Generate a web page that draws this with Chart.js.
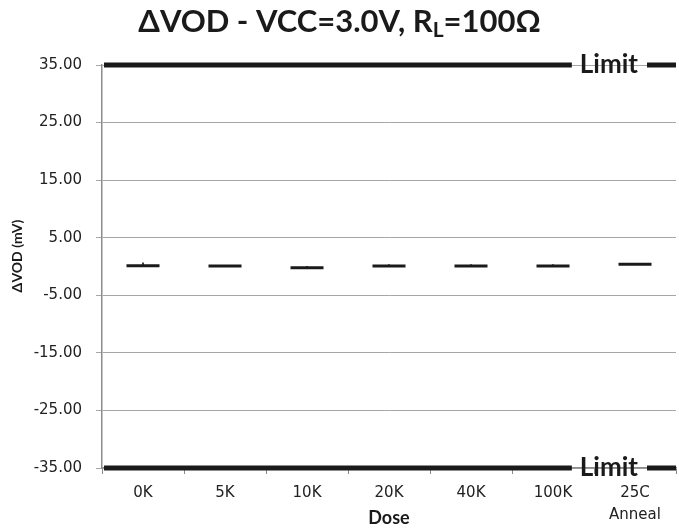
<!DOCTYPE html>
<html>
<head>
<meta charset="utf-8">
<script src="https://cdn.jsdelivr.net/npm/chart.js@4.4.1/dist/chart.umd.min.js"></script>
<style>
  html, body { margin: 0; padding: 0; background: #ffffff; }
  #wrap { width: 679px; height: 532px; }
</style>
</head>
<body>
<div id="wrap"><canvas id="vodChart" width="679" height="532"></canvas></div>
<script>
// Dose steps (second line under 25C names the anneal step)
const doseLabels = [['0K'], ['5K'], ['10K'], ['20K'], ['40K'], ['100K'], ['25C', 'Anneal']];
// Average delta VOD per dose step, mV
const deltaVodAvg = [0.15, 0.10, -0.20, 0.10, 0.10, 0.10, 0.40];
// Upper end of the spread at each dose step, mV
const deltaVodMax = [0.65, 0.10, 0.05, 0.35, 0.35, 0.35, 0.40];
// Specification limits, mV
const limitValues = [35, -35];
const limitText = 'Limit';
// Y axis tick values, mV
const yTickValues = [-35, -25, -15, -5, 5, 15, 25, 35];

const titleMain = 'ΔVOD - VCC=3.0V, R';
const titleSub = 'L';
const titleTail = '=100Ω';
const yTitle = 'ΔVOD (mV)';
const xTitle = 'Dose';

const INK = '#1a1a1a';
const AXIS_GREY = '#8c8c8c';
const GRID_GREY = '#a6a6a6';

// Chart heading with a subscripted L, and the rotated y-axis caption
const headingPlugin = {
  id: 'heading',
  afterDraw(chart) {
    const ctx = chart.ctx;
    ctx.save();
    ctx.fillStyle = INK;
    ctx.textBaseline = 'alphabetic';
    ctx.textAlign = 'left';
    const bigFont = 'bold 31px Lato';
    const subFont = 'bold 21px Lato';
    ctx.font = bigFont;
    const w1 = ctx.measureText(titleMain).width;
    const w3 = ctx.measureText(titleTail).width;
    ctx.font = subFont;
    const w2 = ctx.measureText(titleSub).width;
    const total = w1 + w2 + w3;
    let x = chart.width / 2 - total / 2;
    const base = 32;
    ctx.font = bigFont;
    ctx.fillText(titleMain, x, base);
    x += w1;
    ctx.font = subFont;
    ctx.fillText(titleSub, x, base + 5);
    x += w2;
    ctx.font = bigFont;
    ctx.fillText(titleTail, x, base);

    // y-axis caption
    ctx.translate(17, 256);
    ctx.rotate(-Math.PI / 2);
    ctx.textAlign = 'center';
    ctx.textBaseline = 'middle';
    ctx.font = 'bold 14px Lato';
    ctx.fillText(yTitle, 0, 0);
    ctx.restore();
  }
};

// Heavy limit lines with their inline label
const limitPlugin = {
  id: 'limitLines',
  beforeDatasetsDraw(chart) {
    const { ctx, chartArea: a, scales: { y } } = chart;
    ctx.save();
    ctx.font = 'bold 26px Lato';
    const tw = ctx.measureText(limitText).width;
    const textRight = a.right - 38;
    const textLeft = textRight - tw;
    limitValues.forEach(v => {
      const py = y.getPixelForValue(v);
      ctx.strokeStyle = INK;
      ctx.lineWidth = 5;
      ctx.lineCap = 'butt';
      ctx.beginPath();
      ctx.moveTo(a.left + 2, py);
      ctx.lineTo(textLeft - 8, py);
      ctx.moveTo(textRight + 9, py);
      ctx.lineTo(a.right, py);
      ctx.stroke();
      ctx.fillStyle = INK;
      ctx.textAlign = 'left';
      ctx.textBaseline = 'alphabetic';
      ctx.fillText(limitText, textLeft, py + 8);
    });
    ctx.restore();
  }
};

new Chart(document.getElementById('vodChart'), {
  type: 'line',
  data: {
    labels: doseLabels,
    datasets: [
      {
        type: 'bar',
        label: 'spread',
        data: deltaVodAvg.map((v, i) => [v, deltaVodMax[i]]),
        backgroundColor: INK,
        borderWidth: 0,
        barThickness: 1,
        grouped: false,
        order: 2
      },
      {
        type: 'line',
        label: 'ΔVOD',
        data: deltaVodAvg,
        showLine: false,
        pointStyle: 'line',
        pointRadius: 16.5,
        pointHoverRadius: 16.5,
        pointBorderWidth: 3,
        borderColor: INK,
        backgroundColor: INK,
        order: 1
      }
    ]
  },
  options: {
    responsive: false,
    animation: false,
    devicePixelRatio: 1,
    layout: { autoPadding: false, padding: { top: 65, left: 0, right: 3, bottom: 0 } },
    plugins: {
      legend: { display: false },
      tooltip: { enabled: false },
      title: { display: false }
    },
    scales: {
      x: {
        type: 'category',
        offset: true,
        afterFit(scale) {
          scale.height = 64;
          scale.paddingLeft = 0;
          scale.paddingRight = 0;
        },
        grid: {
          display: true,
          offset: true,
          drawOnChartArea: false,
          drawTicks: true,
          tickLength: 6,
          color: AXIS_GREY
        },
        border: { display: true, color: AXIS_GREY, width: 1.5 },
        ticks: {
          color: '#222222',
          font: { family: 'DejaVu Sans', size: 15, lineHeight: 1.45 },
          padding: 8,
          maxRotation: 0,
          autoSkip: false
        },
        title: {
          display: true,
          text: xTitle,
          color: INK,
          font: { family: 'Lato', size: 18, weight: 'bold', lineHeight: 1.2 },
          padding: { top: 0, bottom: 3 }
        }
      },
      y: {
        type: 'linear',
        min: -35,
        max: 35,
        afterFit(scale) {
          scale.width = 102;
          scale.paddingTop = 0;
          scale.paddingBottom = 0;
        },
        afterBuildTicks(scale) { scale.ticks = yTickValues.map(v => ({ value: v })); },
        grid: {
          color: GRID_GREY,
          lineWidth: 1,
          drawTicks: true,
          tickLength: 6
        },
        border: { display: true, color: AXIS_GREY, width: 1.5 },
        ticks: {
          color: '#222222',
          font: { family: 'DejaVu Sans', size: 15 },
          padding: 14,
          callback: v => Number(v).toFixed(2)
        }
      }
    }
  },
  plugins: [limitPlugin, headingPlugin]
});
</script>
</body>
</html>
